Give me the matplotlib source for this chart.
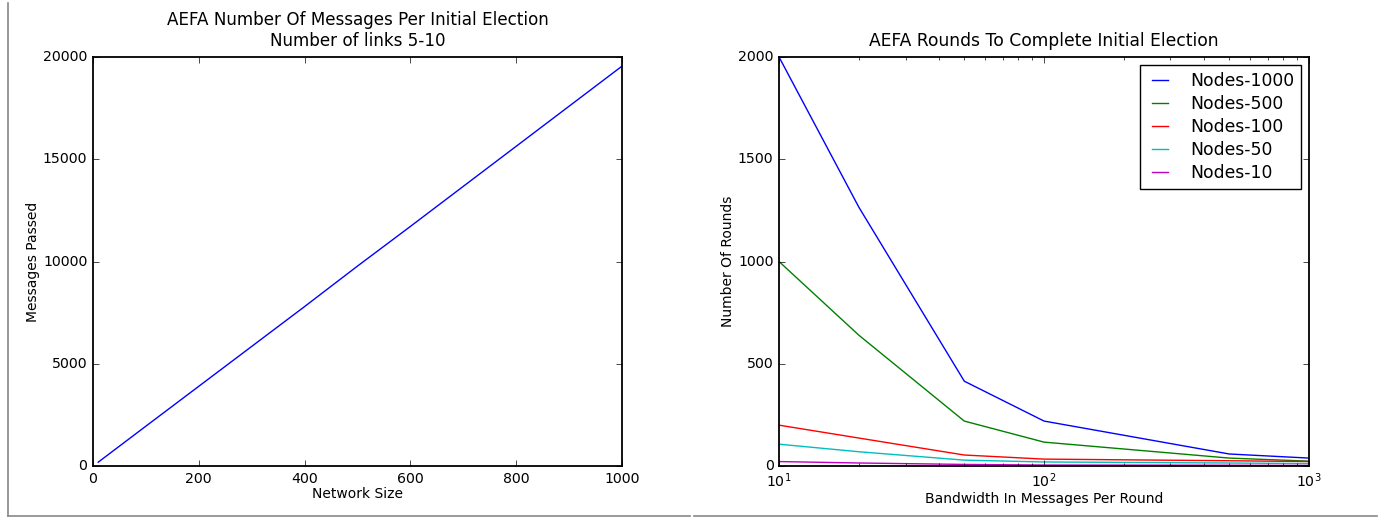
import matplotlib
matplotlib.use('Agg')
import matplotlib.pyplot as plt
from matplotlib.lines import Line2D

# left panel data
netSize = [10, 100, 200, 300, 400, 500, 600, 700, 800, 900, 1000]
msgPassed = [190, 1950, 3900, 5850, 7800, 9780, 11720, 13680, 15640, 17600, 19560]

# right panel data
bandwidth = [10, 20, 50, 100, 500, 1000]
rounds1000 = [2000, 1266, 415, 220, 59, 39]
rounds500 = [1000, 640, 220, 117, 39, 24]
rounds100 = [200, 137, 54, 34, 26, 22]
rounds50 = [107, 70, 29, 20, 15, 12]
rounds10 = [22, 15, 8, 5, 4, 3]
nodeLabels = ['Nodes-1000', 'Nodes-500', 'Nodes-100', 'Nodes-50', 'Nodes-10']

plt.style.use('classic')
plt.rcParams['font.family'] = 'DejaVu Sans'
plt.rcParams['font.size'] = 12
plt.rcParams['axes.linewidth'] = 1.3

fig = plt.figure(figsize=(13.87, 5.19), dpi=100, facecolor='white')

ax1 = fig.add_axes([0.067, 0.102, 0.3815, 0.788])
ax1.plot(netSize, msgPassed, color='b')
ax1.set_xlim(0, 1000)
ax1.set_ylim(0, 20000)
ax1.set_xlabel('Network Size', fontsize=10, labelpad=1)
ax1.set_ylabel('Messages Passed', fontsize=10, labelpad=2)
ax1.set_title('AEFA Number Of Messages Per Initial Election\nNumber of links 5-10', fontsize=12.1, pad=8)
ax1.tick_params(labelsize=10.2)

ax2 = fig.add_axes([0.5617, 0.102, 0.3821, 0.788])
for vals, c in zip([rounds1000, rounds500, rounds100, rounds50, rounds10], ['b', 'g', 'r', 'c', 'm']):
    ax2.plot(bandwidth, vals, color=c)
ax2.set_xscale('log')
ax2.set_xlim(10, 1000)
ax2.set_ylim(0, 2000)
ax2.set_yticks([0, 500, 1000, 1500, 2000])
ax2.set_xlabel('Bandwidth In Messages Per Round', fontsize=10, labelpad=1)
ax2.set_ylabel('Number Of Rounds', fontsize=10, labelpad=2)
ax2.set_title('AEFA Rounds To Complete Initial Election', fontsize=12.3, pad=8)
ax2.tick_params(labelsize=10.2)
ax2.legend(nodeLabels, loc='upper right', fontsize=12.4, labelspacing=0.3,
           handlelength=1.5, handletextpad=1.0, borderpad=0.4, borderaxespad=0.45)

# gray borders of the two pasted images
fig.add_artist(Line2D([8/1387, 8/1387], [1 - 3/519, 1 - 516/519], color='#888888', lw=1.2))
fig.add_artist(Line2D([8/1387, 690/1387], [1 - 516/519, 1 - 516/519], color='#888888', lw=1.2))
fig.add_artist(Line2D([694/1387, 1377/1387], [1 - 516/519, 1 - 516/519], color='#888888', lw=1.2))

fig.savefig('out.png', dpi=100, facecolor='white')
